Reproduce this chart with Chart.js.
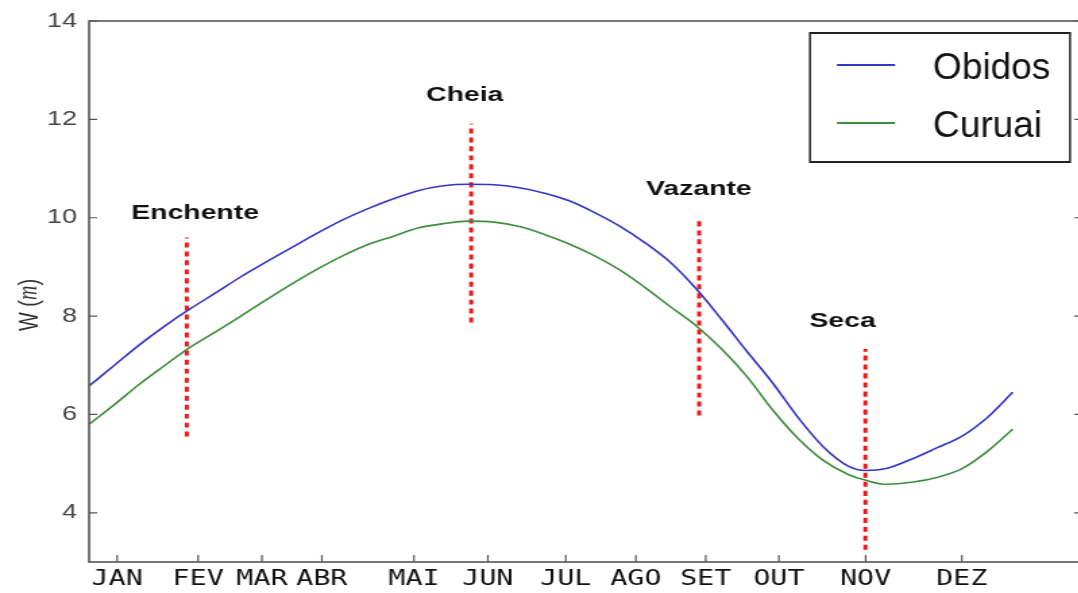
<!DOCTYPE html>
<html>
<head>
<meta charset="utf-8">
<script src="https://cdn.jsdelivr.net/npm/chart.js@4.4.1/dist/chart.umd.min.js"></script>
<style>
  html, body { margin: 0; padding: 0; background: #fff; overflow: hidden; }
  #wrap { width: 1078px; height: 593px; overflow: hidden; }
</style>
</head>
<body>
<div id="wrap"><canvas id="chart" width="801" height="593" style="width:1081px;height:593px;"></canvas></div>
<script>
'use strict';

/*  DATA  */
// day of the year for every sample of the two curves
const days = [0, 10, 20, 30, 40, 50, 60, 70, 80, 90, 100, 110, 120, 130, 140, 150, 160, 170, 180,
  190, 200, 210, 220, 230, 240, 250, 260, 270, 280, 290, 300, 307, 315, 325, 335, 345, 355, 365];
// water level W (m)
const obidos = [6.58, 7.00, 7.42, 7.80, 8.15, 8.47, 8.80, 9.10, 9.39, 9.68, 9.95, 10.18, 10.38, 10.55,
  10.65, 10.68, 10.67, 10.61, 10.50, 10.34, 10.10, 9.82, 9.48, 9.08, 8.55, 7.93, 7.28, 6.65, 5.95,
  5.35, 4.95, 4.86, 4.90, 5.09, 5.32, 5.56, 5.94, 6.45];
const curuai = [5.80, 6.20, 6.62, 7.00, 7.37, 7.68, 8.00, 8.33, 8.65, 8.95, 9.22, 9.45, 9.62, 9.79,
  9.88, 9.93, 9.91, 9.82, 9.66, 9.46, 9.22, 8.93, 8.57, 8.18, 7.80, 7.33, 6.77, 6.10, 5.52, 5.07,
  4.78, 4.66, 4.58, 4.62, 4.72, 4.90, 5.25, 5.70];

// month labels and where they sit on the day axis
const monthLabels = ['JAN', 'FEV', 'MAR', 'ABR', 'MAI', 'JUN', 'JUL', 'AGO', 'SET', 'OUT', 'NOV', 'DEZ'];
const monthPos = [11.1, 43.1, 68.3, 92.0, 128.4, 157.6, 188.4, 216.1, 243.7, 272.6, 306.9, 344.9];
const yTicks = [4, 6, 8, 10, 12, 14];

// hydrological phases: dotted marker lines and their labels
const phaseNames = ['Enchente', 'Cheia', 'Vazante', 'Seca'];
const phaseDay = [38.6, 151, 241.1, 306.8];
const phaseTop = [9.60, 11.91, 10.0, 7.33];
const phaseBottom = [5.55, 7.87, 5.98, 3.25];
const phaseLabelDay = [41.9, 148.5, 241, 297.8];
const phaseLabelW = [10.09, 12.5, 10.57, 7.9];

// the original figure is stretched sideways, the canvas is too (css width / canvas width)
const stretch = 1081 / 801;

/*  CHART  */
function toPoints(xs, ys) {
  return xs.map((d, i) => ({ x: d, y: ys[i] }));
}

const datasets = [
  { label: 'Obidos', data: toPoints(days, obidos), borderColor: '#3434c6', borderWidth: 1.6 },
  { label: 'Curuai', data: toPoints(days, curuai), borderColor: '#3e8d3e', borderWidth: 1.6 }
];
phaseNames.forEach((name, i) => {
  datasets.push({
    label: name,
    data: [{ x: phaseDay[i], y: phaseBottom[i] }, { x: phaseDay[i], y: phaseTop[i] }],
    borderColor: '#f01818',
    borderWidth: 3,
    borderDash: [5, 4],
    borderCapStyle: 'butt'
  });
});

// frame, inward ticks, phase labels, y title and the boxed legend
const decorPlugin = {
  id: 'decor',
  afterDatasetsDraw(chart) {
    const { ctx, chartArea: a, scales: { x, y } } = chart;
    ctx.save();
    ctx.strokeStyle = '#555';
    ctx.lineWidth = 1.6;
    ctx.strokeRect(a.left, a.top, a.right - a.left, a.bottom - a.top);

    ctx.lineWidth = 1.2;
    ctx.beginPath();
    yTicks.forEach(v => {
      const py = y.getPixelForValue(v);
      ctx.moveTo(a.left, py); ctx.lineTo(a.left + 6, py);
      ctx.moveTo(a.right, py); ctx.lineTo(a.right - 5, py);
    });
    monthPos.forEach(v => {
      const px = x.getPixelForValue(v);
      ctx.moveTo(px, a.bottom); ctx.lineTo(px, a.bottom - 7);
    });
    ctx.stroke();

    ctx.fillStyle = '#111';
    ctx.font = 'bold 21px "Liberation Sans"';
    ctx.textAlign = 'center';
    ctx.textBaseline = 'middle';
    phaseNames.forEach((n, i) => {
      ctx.fillText(n, x.getPixelForValue(phaseLabelDay[i]), y.getPixelForValue(phaseLabelW[i]));
    });

    // y axis title: W (m) with italic m
    ctx.translate(22, 305);
    ctx.rotate(-Math.PI / 2);
    ctx.fillStyle = '#333';
    ctx.textAlign = 'left';
    const normal = '20px "Liberation Sans"';
    const italic = 'italic 20px "Liberation Serif"';
    ctx.font = normal;
    const w1 = ctx.measureText('W (').width;
    const w3 = ctx.measureText(')').width;
    ctx.font = italic;
    const w2 = ctx.measureText('m').width;
    let cx = -(w1 + w2 + w3) / 2;
    ctx.font = normal;
    ctx.fillText('W (', cx, 0);
    cx += w1;
    ctx.font = italic;
    ctx.fillText('m', cx, 0);
    cx += w2;
    ctx.font = normal;
    ctx.fillText(')', cx, 0);
    ctx.restore();
  },
  afterDraw(chart) {
    const ctx = chart.ctx;
    ctx.save();
    // legend box, laid out in screen pixels then squeezed back
    ctx.scale(1 / stretch, 1);
    ctx.fillStyle = '#fff';
    ctx.fillRect(810, 33, 260, 129);
    ctx.strokeStyle = '#222';
    ctx.lineWidth = 2;
    ctx.strokeRect(810, 33, 260, 129);
    const rows = [65, 123];
    [0, 1].forEach((di, i) => {
      const ds = chart.data.datasets[di];
      ctx.strokeStyle = ds.borderColor;
      ctx.lineWidth = 2;
      ctx.beginPath();
      ctx.moveTo(837, rows[i]);
      ctx.lineTo(895, rows[i]);
      ctx.stroke();
      ctx.fillStyle = '#111';
      ctx.font = '37px "Liberation Sans"';
      ctx.textAlign = 'left';
      ctx.textBaseline = 'alphabetic';
      ctx.fillText(ds.label, 933, rows[i] + 14);
    });
    ctx.restore();
  }
};

const myChart = new Chart(document.getElementById('chart'), {
  type: 'line',
  data: { datasets: datasets },
  options: {
    responsive: false,
    devicePixelRatio: 1,
    animation: false,
    layout: { padding: { top: 19, right: 0, left: 0, bottom: 0 } },
    elements: {
      point: { radius: 0 },
      line: { cubicInterpolationMode: 'monotone', fill: false }
    },
    plugins: {
      legend: { display: false },
      tooltip: { enabled: false }
    },
    scales: {
      x: {
        type: 'linear',
        min: 0,
        max: 392,
        grid: { display: false, drawTicks: false },
        border: { display: false },
        afterBuildTicks: scale => { scale.ticks = monthPos.map(v => ({ value: v })); },
        afterFit: scale => { scale.height = 31; },
        ticks: {
          autoSkip: false,
          maxRotation: 0,
          padding: 5,
          color: '#111',
          font: { family: 'DejaVu Sans Mono', size: 21 },
          callback: (value, index) => monthLabels[index]
        }
      },
      y: {
        min: 3,
        max: 14,
        grid: { display: false, drawTicks: false },
        border: { display: false },
        afterBuildTicks: scale => { scale.ticks = yTicks.map(v => ({ value: v })); },
        afterFit: scale => { scale.width = 66; },
        ticks: {
          padding: 9,
          color: '#444',
          font: { family: 'Liberation Sans', size: 20 }
        }
      }
    }
  },
  plugins: [decorPlugin]
});
</script>
</body>
</html>
